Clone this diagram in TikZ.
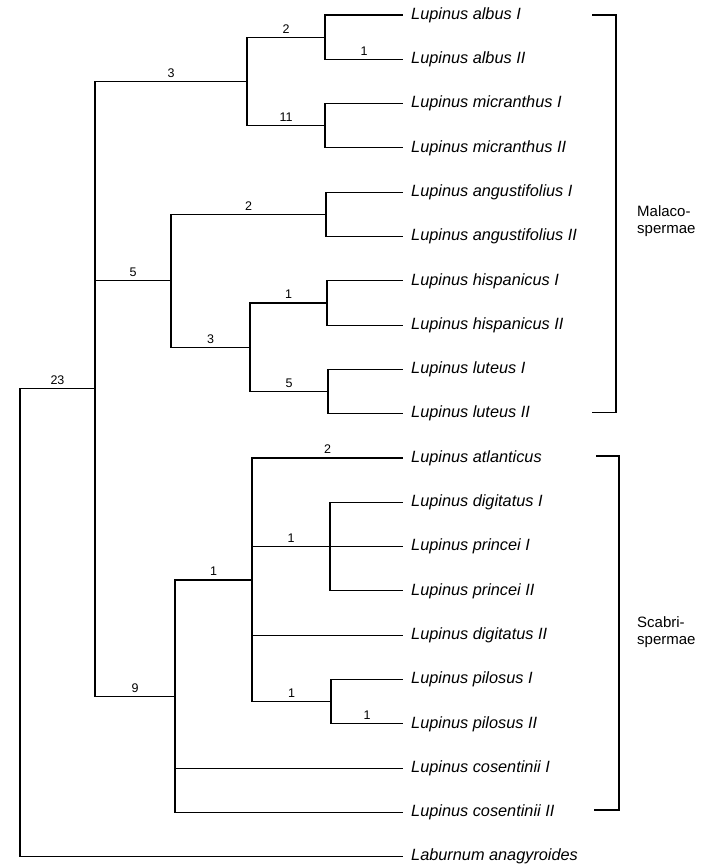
\documentclass[tikz,border=0pt]{standalone}
\usepackage{fontspec}
\setmainfont{Liberation Sans}
\usetikzlibrary{positioning}
\tikzset{
  br/.style={line width=1.1pt},
  leaf/.style={anchor=west,inner xsep=8pt,inner ysep=2pt,
               font=\fontsize{16.3}{18}\selectfont\itshape},
  blen/.style={pos=0.75,above,inner sep=3.5pt,
               font=\fontsize{12.5}{14}\selectfont},
  grp/.style={anchor=west,align=left,inner sep=0pt,
              font=\fontsize{15}{17.5}\selectfont},
}

\begin{document}
\begin{tikzpicture}[x=1pt,y=-1pt]
  \useasboundingbox (0,0) rectangle (716,864);

  % leaves
  \node[leaf](albI)  at (403, 15.0) {Lupinus albus I};
  \node[leaf](albII) at (403, 59.3) {Lupinus albus II};
  \node[leaf](micI)  at (403,103.6) {Lupinus micranthus I};
  \node[leaf](micII) at (403,147.9) {Lupinus micranthus II};
  \node[leaf](angI)  at (403,192.2) {Lupinus angustifolius I};
  \node[leaf](angII) at (403,236.5) {Lupinus angustifolius II};
  \node[leaf](hisI)  at (403,280.8) {Lupinus hispanicus I};
  \node[leaf](hisII) at (403,325.1) {Lupinus hispanicus II};
  \node[leaf](lutI)  at (403,369.4) {Lupinus luteus I};
  \node[leaf](lutII) at (403,413.7) {Lupinus luteus II};
  \node[leaf](atl)   at (403,458.0) {Lupinus atlanticus};
  \node[leaf](digI)  at (403,502.3) {Lupinus digitatus I};
  \node[leaf](priI)  at (403,546.6) {Lupinus princei I};
  \node[leaf](priII) at (403,590.9) {Lupinus princei II};
  \node[leaf](digII) at (403,635.2) {Lupinus digitatus II};
  \node[leaf](pilI)  at (403,679.5) {Lupinus pilosus I};
  \node[leaf](pilII) at (403,723.8) {Lupinus pilosus II};
  \node[leaf](cosI)  at (403,768.1) {Lupinus cosentinii I};
  \node[leaf](cosII) at (403,812.4) {Lupinus cosentinii II};
  \node[leaf](lab)   at (403,856.7) {Laburnum anagyroides};

  % inner nodes
  \coordinate (nAlb) at (325, 37.2);
  \coordinate (nMic) at (325,125.8);
  \coordinate (nAM)  at (247, 81.5);
  \coordinate (nAng) at (326,214.4);
  \coordinate (nHis) at (327,303.0);
  \coordinate (nLut) at (328,391.6);
  \coordinate (nHL)  at (250,347.3);
  \coordinate (nAHL) at (171,280.8);
  \coordinate (nPri) at (330,546.6);
  \coordinate (nPil) at (331,701.7);
  \coordinate (nSc1) at (252,580.0);
  \coordinate (nSc)  at (175,696.2);
  \coordinate (nIn)  at (95,388.8);
  \coordinate (root) at (20,622.7);

  \draw[br](nAlb) |- (albI.west);
  \draw[br](nAlb) |- node[blen]{1} (albII.west);
  \draw[br](nMic) |- (micI.west);
  \draw[br](nMic) |- (micII.west);
  \draw[br](nAM)  |- node[blen]{2} (nAlb);
  \draw[br](nAM)  |- node[blen]{11} (nMic);
  \draw[br](nAng) |- (angI.west);
  \draw[br](nAng) |- (angII.west);
  \draw[br](nHis) |- (hisI.west);
  \draw[br](nHis) |- (hisII.west);
  \draw[br](nLut) |- (lutI.west);
  \draw[br](nLut) |- (lutII.west);
  \draw[br](nHL)  |- node[blen]{1} (nHis);
  \draw[br](nHL)  |- node[blen]{5} (nLut);
  \draw[br](nAHL) |- node[blen]{2} (nAng);
  \draw[br](nAHL) |- node[blen]{3} (nHL);

  \draw[br](nPri) |- (digI.west);
  \draw[br](nPri) |- (priI.west);
  \draw[br](nPri) |- (priII.west);
  \draw[br](nPil) |- (pilI.west);
  \draw[br](nPil) |- node[blen]{1} (pilII.west);
  \draw[br](nSc1) |- node[blen]{2} (atl.west);
  \draw[br](nSc1) |- node[blen]{1} (nPri);
  \draw[br](nSc1) |- (digII.west);
  \draw[br](nSc1) |- node[blen]{1} (nPil);
  \draw[br](nSc)  |- node[blen]{1} (nSc1);
  \draw[br](nSc)  |- (cosI.west);
  \draw[br](nSc)  |- (cosII.west);

  \draw[br](nIn)  |- node[blen]{3} (nAM);
  \draw[br](nIn)  |- node[blen]{5} (nAHL);
  \draw[br](nIn)  |- node[blen]{9} (nSc);
  \draw[br](root) |- node[blen]{23} (nIn);
  \draw[br](root) |- (lab.west);

  % groups
  \coordinate (malT) at (592, 15.0);
  \coordinate (malB) at (592,412.5);
  \coordinate (scaT) at (596,456.0);
  \coordinate (scaB) at (594,810.0);
  \draw[br](malT) -- ++(24,0) |- (malB);
  \draw[br](scaT) -- ++(23,0) |- (scaB);
  \node[grp](mal) at (637,221) {Malaco-\\spermae};
  \node[grp](sca) at (637,632) {Scabri-\\spermae};
\end{tikzpicture}
\end{document}
